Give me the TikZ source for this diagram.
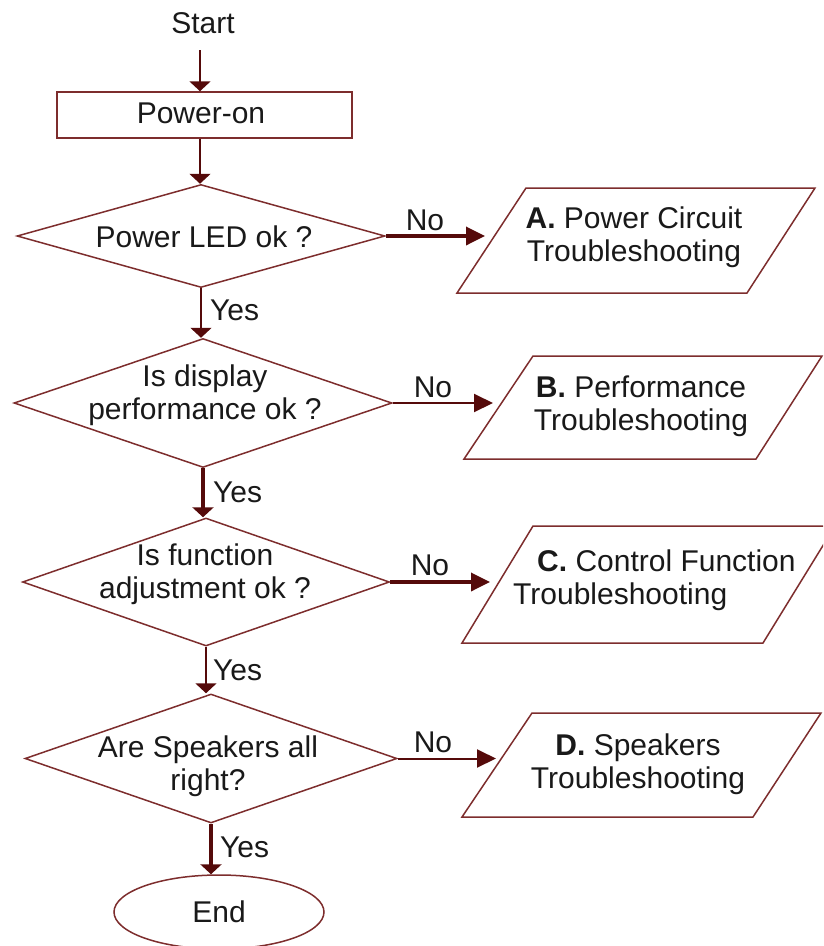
\documentclass[tikz,border=0pt]{standalone}
\usepackage{fontspec}
\setmainfont{Liberation Sans}
\usetikzlibrary{shapes.geometric,arrows.meta}
\definecolor{shapecol}{RGB}{125,45,45}
\definecolor{arrcol}{RGB}{85,10,10}
\definecolor{txtcol}{RGB}{25,25,25}
\begin{document}
\begin{tikzpicture}[x=1pt,y=-1pt,
  every node/.style={font=\fontsize{30}{33}\selectfont, text=txtcol, inner sep=0pt},
  box/.style={draw=shapecol, line width=1.5pt},
  dia/.style={diamond, draw=shapecol, line width=1.5pt, inner sep=0pt, aspect=3.6},
  para/.style={draw=shapecol, line width=1.5pt, line join=miter},
  tharrow/.style={draw=arrcol, fill=arrcol, line width=2pt},
  tkarrow/.style={draw=arrcol, fill=arrcol, line width=3.5pt},
  vhead/.style={-{Triangle[length=10pt,width=21pt]}},
  hhead/.style={-{Triangle[length=19pt,width=18pt]}},
  lab/.style={anchor=center},
  ylab/.style={anchor=west}
]
\useasboundingbox (0,0) rectangle (823,946);
\clip (0,0) rectangle (823,946);

% nodes
\node (start) at (203,23) {Start};
\coordinate (s0) at (200,50);
\node[box, minimum width=295pt, minimum height=46pt] (pwr) at (204.5,115) {};
\node (tpwr) at (201,113) {Power-on};

\node[dia, minimum width=368pt, minimum height=103pt] (d1) at (201,236) {};
\node[dia, minimum width=378pt, minimum height=129pt] (d2) at (203,403) {};
\node[dia, minimum width=367pt, minimum height=128pt] (d3) at (206,582) {};
\node[dia, minimum width=372pt, minimum height=129pt] (d4) at (211,758.5) {};

\node (t1) at (204,237) {Power LED ok ?};
\node[align=center] (t2) at (205,395.5) {Is display\\performance ok ?};
\node[align=center] (t3) at (205,574.5) {Is function\\adjustment ok ?};
\node[align=center] (t4) at (208,766.5) {Are Speakers all\\right?};

% parallelograms
\draw[para] (526,188) -- (815,188) -- (747,293) -- (457,293) -- cycle;
\draw[para] (533,356) -- (822,356) -- (756,459) -- (464,459) -- cycle;
\draw[para] (533,526) -- (835,526) -- (763,643) -- (462,643) -- cycle;
\draw[para] (532,713) -- (821,713) -- (753,817) -- (462,817) -- cycle;

\node[align=center] (ta) at (634,237.5) {\textbf{A.} Power Circuit\\Troubleshooting};
\node[align=center] (tb) at (641,406.5) {\textbf{B.} Performance\\Troubleshooting};
\node[align=left, anchor=west] (tc) at (513,580) {\hspace*{24pt}\textbf{C.} Control Function\\Troubleshooting};
\node[align=center] (td) at (638,764.5) {\textbf{D.} Speakers\\Troubleshooting};

\coordinate (inA) at (485,238);
\coordinate (inB) at (493,406);
\coordinate (inC) at (490,585);
\coordinate (inD) at (496,761);

\node[ellipse, draw=shapecol, line width=1.5pt, minimum width=210pt, minimum height=74pt] (end) at (219,912) {End};

% connectors
\draw[tharrow,vhead] (s0) -- (s0 |- pwr.north);
\draw[tharrow,vhead] (s0 |- pwr.south) -- (s0 |- d1.north);
\draw[tharrow,vhead] (d1.south) -- (d1.south |- d2.north);
\draw[tkarrow,vhead] (d2.south) -- (d2.south |- d3.north);
\draw[tharrow,vhead] (d3.south) -- (d3.south |- d4.north);
\draw[tkarrow,vhead] (d4.south) -- (d4.south |- end.north);

\draw[tkarrow,hhead] (d1.east) -- (d1.east -| inA);
\draw[tharrow,hhead] (d2.east) -- (d2.east -| inB);
\draw[tkarrow,hhead] (d3.east) -- (d3.east -| inC);
\draw[tharrow,hhead] (d4.east) -- (d4.east -| inD);

% labels
\node[lab] (no1) at (425,220) {No};
\node[lab] (no2) at (433,387) {No};
\node[lab] (no3) at (430,565) {No};
\node[lab] (no4) at (433,742) {No};
\node[ylab] (y1) at (210,310) {Yes};
\node[ylab] (y2) at (213,492) {Yes};
\node[ylab] (y3) at (213,670) {Yes};
\node[ylab] (y4) at (220,847) {Yes};
\end{tikzpicture}
\end{document}
